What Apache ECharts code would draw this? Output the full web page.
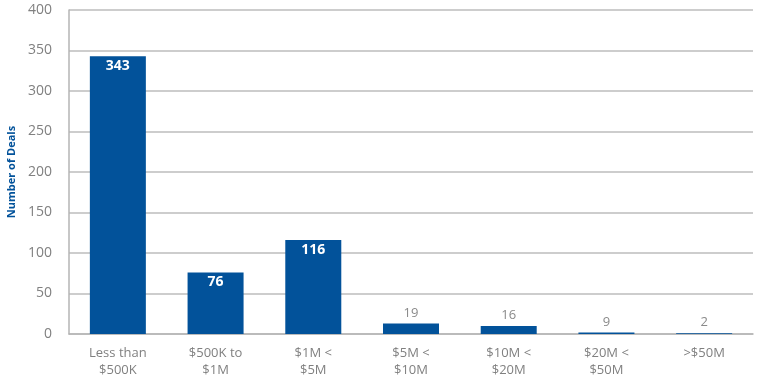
<!DOCTYPE html>
<html>
<head>
<meta charset="utf-8">
<script src="https://cdn.jsdelivr.net/npm/echarts@6/dist/echarts.min.js"></script>
<style>html,body{margin:0;padding:0;background:#fff;}#c{width:760px;height:380px;}</style>
</head>
<body>
<div id="c"></div>
<script>
var categories = ['Less than\n$500K', '$500K to\n$1M', '$1M <\n$5M', '$5M <\n$10M', '$10M <\n$20M', '$20M <\n$50M', '>$50M'];
var barHeights = [343, 76, 116, 13, 10, 2, 1];
var dealLabels = [343, 76, 116, 19, 16, 9, 2];
var yTicks = [0, 50, 100, 150, 200, 250, 300, 350, 400];

var BLUE = '#02529a';
var FONT = 'Open Sans';
var chart = echarts.init(document.getElementById('c'));
var data = barHeights.map(function (v, i) {
  var inside = v > 50;
  return {
    value: v,
    label: inside ? {
      position: 'insideTop', color: '#fff', fontWeight: 'bold', fontSize: 14, distance: 3
    } : {
      position: 'top', color: '#8a8a8a', fontWeight: 'normal', fontSize: 13, distance: 4
    }
  };
});
chart.setOption({
  animation: false,
  grid: { left: 69, right: 7, top: 10, bottom: 46, outerBoundsMode: 'none', containLabel: false },
  xAxis: {
    type: 'category',
    data: categories,
    axisLine: { lineStyle: { color: '#b5b5b5', width: 1.5 } },
    axisTick: { show: false },
    axisLabel: { color: '#808080', fontSize: 13, lineHeight: 17, margin: 11, fontFamily: FONT, interval: 0 }
  },
  yAxis: {
    type: 'value',
    min: yTicks[0],
    max: yTicks[yTicks.length - 1],
    interval: 50,
    name: 'Number of Deals',
    nameLocation: 'middle',
    nameGap: 52,
    nameTextStyle: { color: BLUE, fontWeight: 'bold', fontSize: 11, fontFamily: FONT },
    axisLine: { show: true, lineStyle: { color: '#b5b5b5', width: 1.5 } },
    axisTick: { show: false },
    axisLabel: { color: '#808080', fontSize: 14, margin: 17, fontFamily: FONT },
    splitLine: { lineStyle: { color: '#bdbdbd', width: 1.5 } }
  },
  series: [{
    type: 'bar',
    data: data,
    barWidth: 56,
    itemStyle: { color: BLUE },
    label: {
      show: true,
      fontFamily: FONT,
      formatter: function (p) { return dealLabels[p.dataIndex]; }
    }
  }]
});
</script>
</body>
</html>
